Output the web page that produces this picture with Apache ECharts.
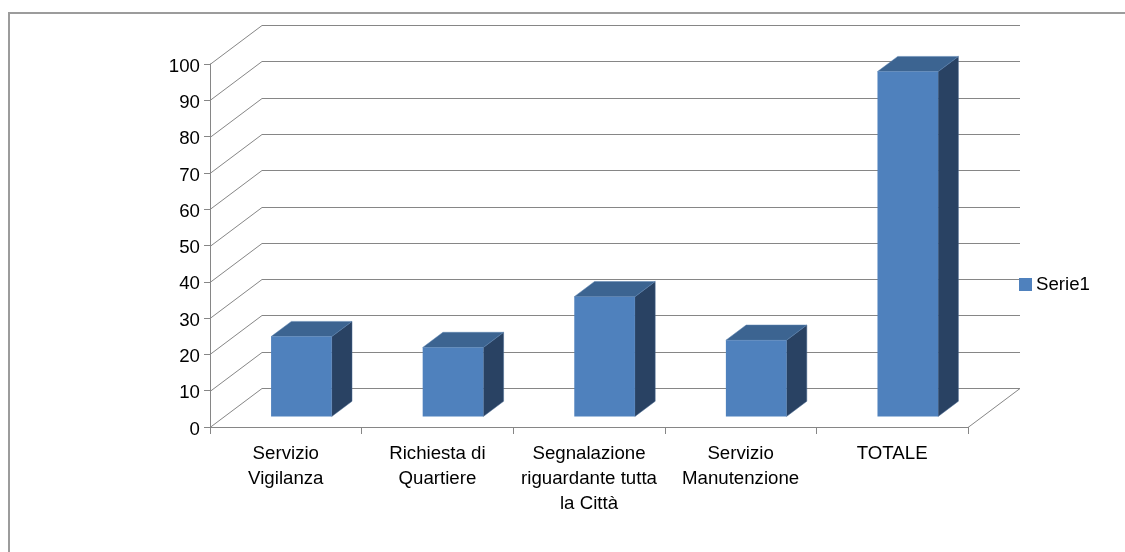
<!DOCTYPE html>
<html>
<head>
<meta charset="utf-8">
<style>
html, body { margin: 0; padding: 0; background: #fff; }
#chart { width: 1125px; height: 552px; }
</style>
<script src="https://cdn.jsdelivr.net/npm/echarts@6/dist/echarts.min.js"></script>
</head>
<body>
<div id="chart"></div>
<script>
var categories = ["Servizio\nVigilanza", "Richiesta di\nQuartiere", "Segnalazione\nriguardante tutta\nla Città", "Servizio\nManutenzione", "TOTALE"];
var values = [22, 19, 33, 21, 95];
var yTicks = [0, 10, 20, 30, 40, 50, 60, 70, 80, 90, 100];
var seriesName = "Serie1";

// offset of the back wall from the front of the floor
var wallDx = 52, wallDy = 39;
// where the bar sits inside the floor depth (0 front, 1 back)
var barFrontX = 0.3, barFrontY = 0.27, barDepth = 0.39;
var barWidth = 0.4;
var labelSize = 18.67;

function crisp(v) {
  return Math.round(v) + 0.5;
}

function renderWall(params, api) {
  var sys = params.coordSys;
  var y = crisp(api.coord([0, api.value(0)])[1]);
  var left = sys.x, right = sys.x + sys.width;
  var children = [{
    type: "polyline",
    shape: { points: [[left, y], [left + wallDx, y - wallDy], [right + wallDx, y - wallDy]] },
    style: { fill: null, stroke: "#868686", lineWidth: 1 }
  }];
  if (api.value(0) === 0) {
    children.push({
      type: "line",
      shape: { x1: right, y1: y, x2: right + wallDx, y2: y - wallDy },
      style: { stroke: "#868686", lineWidth: 1 }
    });
  }
  return { type: "group", children: children };
}

function renderBar(params, api) {
  var base = api.coord([api.value(0), 0]);
  var top = api.coord([api.value(0), api.value(1)]);
  var w = api.size([1, 0])[0] * barWidth;
  var fx = barFrontX * wallDx, fy = barFrontY * wallDy;
  var dx = barDepth * wallDx, dy = barDepth * wallDy;
  var x0 = base[0] + fx - w / 2, x1 = x0 + w;
  var y0 = base[1] - fy, y1 = top[1] - fy;
  return {
    type: "group",
    children: [
      {
        type: "polygon",
        shape: { points: [[x1, y1], [x1 + dx, y1 - dy], [x1 + dx, y0 - dy], [x1, y0]] },
        style: { fill: "#294263", stroke: "#4a6a92", lineWidth: 0.5 }
      },
      {
        type: "polygon",
        shape: { points: [[x0, y1], [x0 + dx, y1 - dy], [x1 + dx, y1 - dy], [x1, y1]] },
        style: { fill: "#3c6491", stroke: "#5a82b0", lineWidth: 0.5 }
      },
      {
        type: "rect",
        shape: { x: x0, y: y1, width: w, height: y0 - y1 },
        style: { fill: "#4f81bd" }
      }
    ]
  };
}

var chart = echarts.init(document.getElementById("chart"), null, { renderer: "canvas" });
chart.setOption({
  animation: false,
  backgroundColor: "#fff",
  textStyle: { fontFamily: "Liberation Sans" },
  grid: { left: 210, right: 157, top: 64, bottom: 125 },
  legend: {
    data: [seriesName],
    left: 1019,
    top: 275,
    icon: "rect",
    itemWidth: 13,
    itemHeight: 13,
    itemGap: 0,
    padding: 0,
    selectedMode: false,
    textStyle: { color: "#000", fontSize: labelSize, padding: [0, 0, 0, -1] }
  },
  xAxis: {
    type: "category",
    data: categories,
    axisLine: { lineStyle: { color: "#868686", width: 1 } },
    axisTick: { show: true, length: 7, lineStyle: { color: "#868686" } },
    axisLabel: { color: "#000", fontSize: labelSize, lineHeight: 25, margin: 14, interval: 0 },
    splitLine: { show: false }
  },
  yAxis: {
    type: "value",
    min: 0,
    max: 100,
    interval: 10,
    axisLine: { show: true, lineStyle: { color: "#868686", width: 1 } },
    axisTick: { show: true, length: 6, lineStyle: { color: "#868686" } },
    axisLabel: {
      margin: 10,
      formatter: "{v|{value}}",
      rich: { v: { color: "#000", fontSize: labelSize, padding: [5, 0, 0, 0] } }
    },
    splitLine: { show: false }
  },
  graphic: [{
    type: "polyline",
    silent: true,
    shape: { points: [[9, 552], [9, 13], [1125, 13]] },
    style: { fill: null, stroke: "#9c9c9c", lineWidth: 2 }
  }],
  series: [
    {
      name: "wall",
      type: "custom",
      silent: true,
      z: 1,
      renderItem: renderWall,
      encode: { y: 0 },
      data: yTicks.map(function (t) { return [t]; })
    },
    {
      name: seriesName,
      type: "custom",
      silent: true,
      z: 2,
      itemStyle: { color: "#4f81bd" },
      renderItem: renderBar,
      encode: { x: 0, y: 1 },
      data: values.map(function (v, i) { return [i, v]; })
    }
  ]
});
</script>
</body>
</html>
